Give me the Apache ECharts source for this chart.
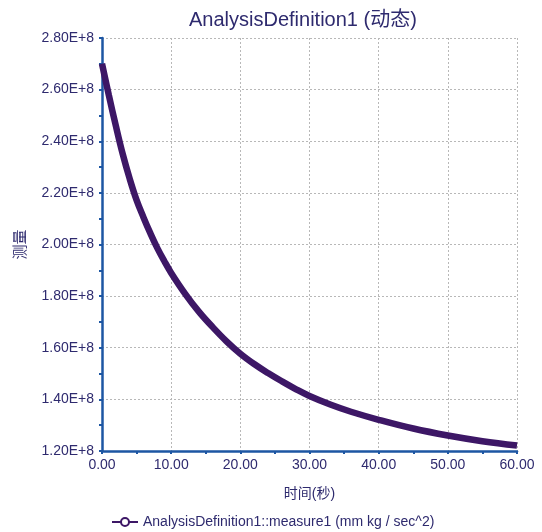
<!DOCTYPE html>
<html>
<head>
<meta charset="utf-8">
<title>AnalysisDefinition1</title>
<script src="https://cdn.jsdelivr.net/npm/echarts@6/dist/echarts.min.js"></script>
<style>
  html, body { margin: 0; padding: 0; background: #fff; }
  #chart { width: 542px; height: 532px; }
</style>
</head>
<body>
<div id="chart"></div>
<script>
// 时间 (秒)
const timeValues = [0, 1, 2, 3, 4, 5, 6, 7, 8, 9, 10, 12, 14, 16, 18, 20, 22, 24, 26, 28, 30, 33, 36, 40, 45, 50, 55, 60];
// 测量 (单位 1E+8)
const measureValues = [2.70, 2.577, 2.46, 2.35, 2.255, 2.172, 2.105, 2.043, 1.986, 1.936, 1.89, 1.81, 1.74, 1.68, 1.625, 1.577, 1.537, 1.502, 1.47, 1.44, 1.413, 1.38, 1.352, 1.321, 1.287, 1.26, 1.238, 1.221];
const seriesName = 'AnalysisDefinition1::measure1 (mm kg / sec^2)';

const fontFamily = "'Liberation Sans', Arial, 'Noto Sans CJK SC', sans-serif";
const textColor = '#2e2a6e';
const axisBlue = '#1d56a3';

const chart = echarts.init(document.getElementById('chart'));

chart.setOption({
  animation: false,
  textStyle: { fontFamily },
  title: {
    text: 'AnalysisDefinition1 (动态)',
    left: 184,
    top: 5,
    textStyle: { color: textColor, fontSize: 20, fontWeight: 'normal', fontFamily },
  },
  grid: { left: 102, top: 38, width: 415, height: 413 },
  legend: {
    left: 106,
    top: 510,
    itemWidth: 26,
    itemHeight: 10,
    itemGap: 6,
    textStyle: { color: textColor, fontSize: 14, fontFamily },
    data: [seriesName],
  },
  xAxis: {
    type: 'value',
    min: 0,
    max: 60,
    interval: 10,
    name: '时间(秒)',
    nameLocation: 'middle',
    nameGap: 36,
    nameTextStyle: { color: textColor, fontSize: 14, fontFamily },
    axisLine: { lineStyle: { color: axisBlue, width: 2.5 } },
    axisTick: { show: true, length: 3, lineStyle: { color: axisBlue, width: 2 } },
    minorTick: { show: true, splitNumber: 2, length: 3, lineStyle: { color: axisBlue, width: 2 } },
    axisLabel: {
      color: textColor,
      fontSize: 14,
      margin: 7,
      formatter: (v) => v.toFixed(2),
    },
    splitLine: { show: true, lineStyle: { color: '#b8b8b8', type: [2, 2], width: 1 } },
  },
  yAxis: {
    type: 'value',
    min: 1.2,
    max: 2.8,
    interval: 0.2,
    name: '测量',
    nameLocation: 'middle',
    nameGap: 74,
    nameRotate: 90,
    nameTextStyle: { color: textColor, fontSize: 15, fontFamily },
    axisLine: { show: true, lineStyle: { color: axisBlue, width: 2.5 } },
    axisTick: { show: true, length: 3, lineStyle: { color: axisBlue, width: 2 } },
    minorTick: { show: true, splitNumber: 2, length: 3, lineStyle: { color: axisBlue, width: 2 } },
    axisLabel: {
      color: textColor,
      fontSize: 14,
      margin: 8,
      formatter: (v) => v.toFixed(2) + 'E+8',
    },
    splitLine: { show: true, lineStyle: { color: '#b8b8b8', type: [2, 2], width: 1 } },
  },
  series: [
    {
      name: seriesName,
      type: 'line',
      smooth: 0.4,
      symbol: 'emptyCircle',
      symbolSize: 6,
      showSymbol: false,
      itemStyle: { color: '#3d1766' },
      lineStyle: { color: '#3d1766', width: 6.5 },
      data: timeValues.map((t, i) => [t, measureValues[i]]),
    },
  ],
});
</script>
</body>
</html>
